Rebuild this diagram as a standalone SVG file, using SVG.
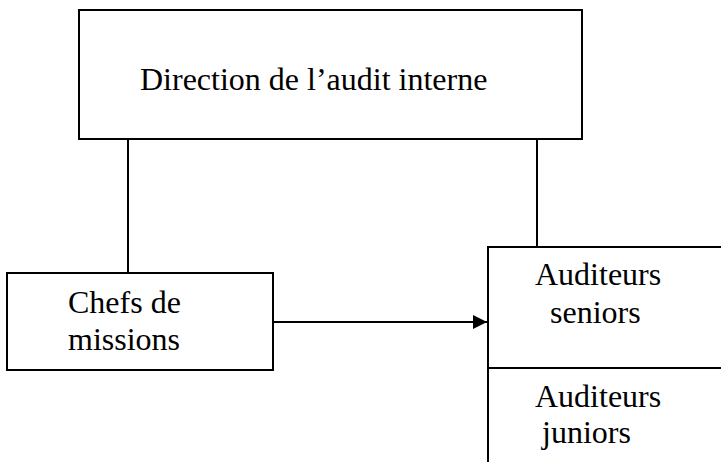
<svg xmlns="http://www.w3.org/2000/svg" width="721" height="462" viewBox="0 0 721 462">
<defs>
<style>
.box{fill:#fff;stroke:#000;stroke-width:2}
.ln{fill:none;stroke:#000;stroke-width:2}
text{font-family:"Liberation Serif","Times New Roman",serif;font-size:32px;fill:#000}
</style>
<marker id="ah" viewBox="0 0 10 10" refX="10" refY="5" markerWidth="14" markerHeight="14" markerUnits="userSpaceOnUse" orient="auto">
<path d="M0,0 L10,5 L0,10 z" fill="#000"/>
</marker>
</defs>
<rect width="721" height="462" fill="#fff"/>
<g id="connectors">
<line class="ln" x1="128" y1="139" x2="128" y2="273"/>
<line class="ln" x1="537" y1="139" x2="537" y2="247"/>
<line class="ln" x1="273" y1="322" x2="487" y2="322" marker-end="url(#ah)"/>
</g>
<g id="direction">
<rect class="box" x="79" y="10" width="503" height="129"/>
<text x="140" y="90">Direction de l’audit interne</text>
</g>
<g id="chefs">
<rect class="box" x="7" y="273" width="266" height="97"/>
<text x="68" y="313">Chefs de</text>
<text x="68" y="350">missions</text>
</g>
<g id="seniors">
<rect class="box" x="488" y="247" width="240" height="121"/>
<text x="535" y="285">Auditeurs</text>
<text x="550" y="323">seniors</text>
</g>
<g id="juniors">
<rect class="box" x="488" y="368" width="240" height="100"/>
<text x="535" y="407">Auditeurs</text>
<text x="542" y="443">juniors</text>
</g>
</svg>
